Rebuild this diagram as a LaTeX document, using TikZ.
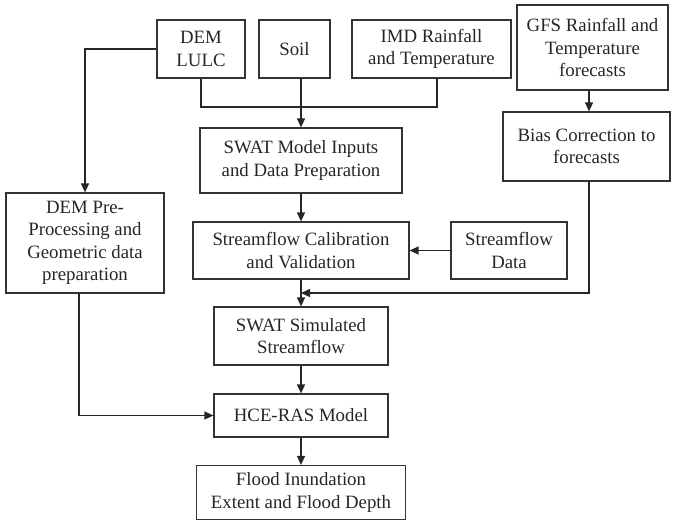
\documentclass[tikz,border=0pt]{standalone}
\usepackage{fontspec}
\setmainfont{Liberation Serif}
\usetikzlibrary{arrows.meta}
\begin{document}
\begin{tikzpicture}[x=1pt,y=-1pt,
  box/.style={draw=black!80, line width=1.2pt, align=center, inner sep=0pt,
    font=\fontsize{18.8}{22.5}\selectfont, text=black!85},
  conn/.style={draw=black!85, line width=1.4pt},
  arr/.style={conn, -{Triangle[length=9pt,width=8pt]}}]
\useasboundingbox (0,0) rectangle (674,522);
\node[box, minimum width=88pt, minimum height=58pt] (dem) at (201,49) {DEM\\LULC};
\node[box, minimum width=71pt, minimum height=58pt] (soil) at (294.5,49) {Soil};
\node[box, minimum width=159pt, minimum height=58pt] (imd) at (431.5,49) {IMD Rainfall\\and Temperature};
\node[box, minimum width=151pt, minimum height=85pt] (gfs) at (592.5,47.5) {GFS Rainfall and\\Temperature\\forecasts};
\node[box, minimum width=167pt, minimum height=69pt] (bias) at (586.5,146.5) {Bias Correction to\\forecasts};
\node[box, minimum width=202pt, minimum height=65pt] (inputs) at (301,160.5) {SWAT Model Inputs\\and Data Preparation};
\node[box, minimum width=216pt, minimum height=57pt] (calib) at (301,250.5) {Streamflow Calibration\\and Validation};
\node[box, minimum width=116pt, minimum height=57pt] (sdata) at (509,250.5) {Streamflow\\Data};
\node[box, minimum width=158pt, minimum height=100pt] (dempre) at (85,243) {DEM Pre-\\Processing and\\Geometric data\\preparation};
\node[box, minimum width=174pt, minimum height=58pt] (sim) at (301,336) {SWAT Simulated\\Streamflow};
\node[box, minimum width=174pt, minimum height=43pt] (hce) at (301,415.5) {HCE-RAS Model};
\node[box, minimum width=209pt, minimum height=54pt] (flood) at (301,492.5) {Flood Inundation\\Extent and Flood Depth};

\coordinate (j) at (301,107);
\coordinate (sj) at (301,78);
\coordinate (ij) at (437,78);
\coordinate (bj) at (301,293);
\coordinate (bs) at (589,181);
\coordinate (ds) at (79,293);

\draw[conn] (dem.south) |- (j) -| (ij);
\draw[conn] (sj) -- (j);
\draw[arr] (j) -- (inputs.north);
\draw[arr] (dem.west) -| (dempre.north);
\draw[arr] (gfs.south -| bs) -- (bias.north -| bs);
\draw[arr] (inputs.south) -- (calib.north);
\draw[arr] (sdata.west) -- (calib.east);
\draw[arr] (calib.south) -- (sim.north);
\draw[arr] (bs) |- (bj);
\draw[arr] (sim.south) -- (hce.north);
\draw[arr] (ds) |- (hce.west);
\draw[arr] (hce.south) -- (flood.north);
\end{tikzpicture}
\end{document}
